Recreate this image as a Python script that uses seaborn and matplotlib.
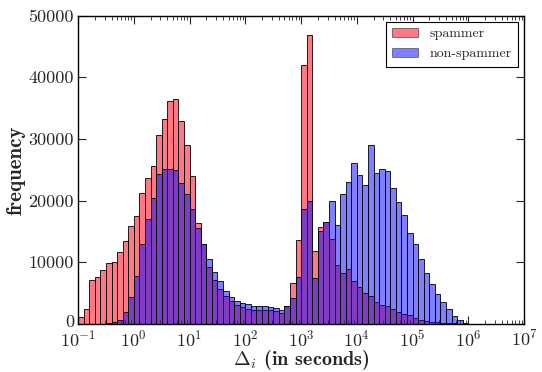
import numpy as np
import pandas as pd
import matplotlib
matplotlib.use("Agg")
import matplotlib.pyplot as plt
import matplotlib.transforms as mtransforms
from matplotlib.patches import Patch
import seaborn as sns

# log10 bin edges: 10 bins per decade from 10^-1 to 10^6
bin_exponents = [round(-1.0 + 0.1 * i, 2) for i in range(71)]

# counts per bin
spammer_counts = [
    1100, 2500, 7100, 7600, 8800, 9900, 10000, 11700, 13400, 15900,
    17500, 21200, 23700, 25700, 30600, 33200, 36200, 36500, 32900, 29000,
    24000, 16400, 13000, 9200, 7100, 5600, 4600, 3800, 3100, 2700,
    2500, 2200, 2200, 2200, 2200, 2100, 1800, 3000, 6600, 13700,
    42000, 46900, 11800, 15800, 16600, 13800, 9600, 8200, 8900, 7000,
    6000, 5000, 4600, 3500, 3100, 2900, 2500, 2000, 1700, 1500,
    1000, 700, 500, 400, 300, 200, 150, 100, 50, 0,
]
nonspammer_counts = [
    0, 0, 0, 0, 50, 100, 300, 700, 1900, 4400,
    7800, 12900, 17000, 20400, 24300, 25200, 25100, 24900, 22900, 21000,
    18700, 15500, 12900, 10500, 8400, 6900, 5300, 4400, 3700, 3400,
    3200, 2900, 2900, 2900, 2800, 2600, 2300, 3000, 4200, 7600,
    18600, 19900, 7500, 15100, 16500, 19900, 16100, 21000, 23000, 26100,
    24100, 22600, 29000, 24500, 25200, 24800, 22100, 19800, 17600, 14700,
    12900, 10500, 8300, 6500, 4900, 3500, 2400, 1300, 600, 200,
]
series_labels = ["spammer", "non-spammer"]
series_colors = ["#ff0a1e", "#0000ff"]
series_alpha = [0.55, 0.5]

x_ticks_exp = list(range(-1, 8))
y_ticks = [0, 10000, 20000, 30000, 40000, 50000]

sns.set_style("ticks")
plt.rcParams["font.family"] = "serif"
plt.rcParams["font.serif"] = ["cmr10", "DejaVu Serif"]
plt.rcParams["mathtext.fontset"] = "cm"
plt.rcParams["axes.unicode_minus"] = False
plt.rcParams["axes.formatter.use_mathtext"] = True

centers = [10 ** (e + 0.05) for e in bin_exponents[:-1]]

fig = plt.figure(figsize=(5.42, 3.72), dpi=100)
ax = fig.add_axes([0.144, 0.129, 0.823, 0.829])

for counts, col, a in zip([spammer_counts, nonspammer_counts], series_colors, series_alpha):
    df = pd.DataFrame({"delta": centers, "count": counts})
    sns.histplot(data=df, x="delta", weights="count", bins=bin_exponents,
                 log_scale=True, color=col, alpha=a, edgecolor="black",
                 linewidth=0.6, ax=ax)

ax.set_xlim(10.0 ** x_ticks_exp[0], 10.0 ** x_ticks_exp[-1])
ax.set_ylim(y_ticks[0], y_ticks[-1])
ax.set_xticks([10.0 ** e for e in x_ticks_exp])
ax.set_yticks(y_ticks)
ax.set_yticklabels([str(v) for v in y_ticks])
ax.xaxis.set_minor_locator(matplotlib.ticker.LogLocator(base=10, subs=np.arange(2, 10), numticks=20))

ax.tick_params(which="both", direction="in", top=True, right=True, labelsize=13)
ax.tick_params(axis="x", which="major", pad=3.2)
ax.tick_params(axis="y", which="major", pad=3)
ax.tick_params(which="major", length=6, width=0.8)
ax.tick_params(which="minor", length=3, width=0.6)
for s in ax.spines.values():
    s.set_linewidth(1.0)
    s.set_color("black")

# nudge the "0" label up slightly so it does not collide with 10^-1
zero_lbl = ax.get_yticklabels()[0]
zero_lbl.set_transform(zero_lbl.get_transform() +
                       mtransforms.ScaledTranslation(0, 3.5 / 100, fig.dpi_scale_trans))

ax.set_xlabel(r"$\Delta_i$ (in seconds)", fontfamily="cmb10", fontsize=14.5, labelpad=-1)
ax.set_ylabel("frequency", fontfamily="cmb10", fontsize=15, labelpad=2)

handles = [Patch(facecolor=c, alpha=a, edgecolor="black", linewidth=0.6, label=l)
           for c, a, l in zip(series_colors, series_alpha, series_labels)]
leg = ax.legend(handles=handles, loc="upper right", fontsize=10, frameon=True,
                fancybox=False, edgecolor="black", framealpha=1,
                handlelength=1.9, handleheight=0.6, borderpad=0.45,
                labelspacing=0.55, handletextpad=0.8, borderaxespad=0.45)
leg.get_frame().set_linewidth(0.8)

fig.savefig("out.png", dpi=100)
